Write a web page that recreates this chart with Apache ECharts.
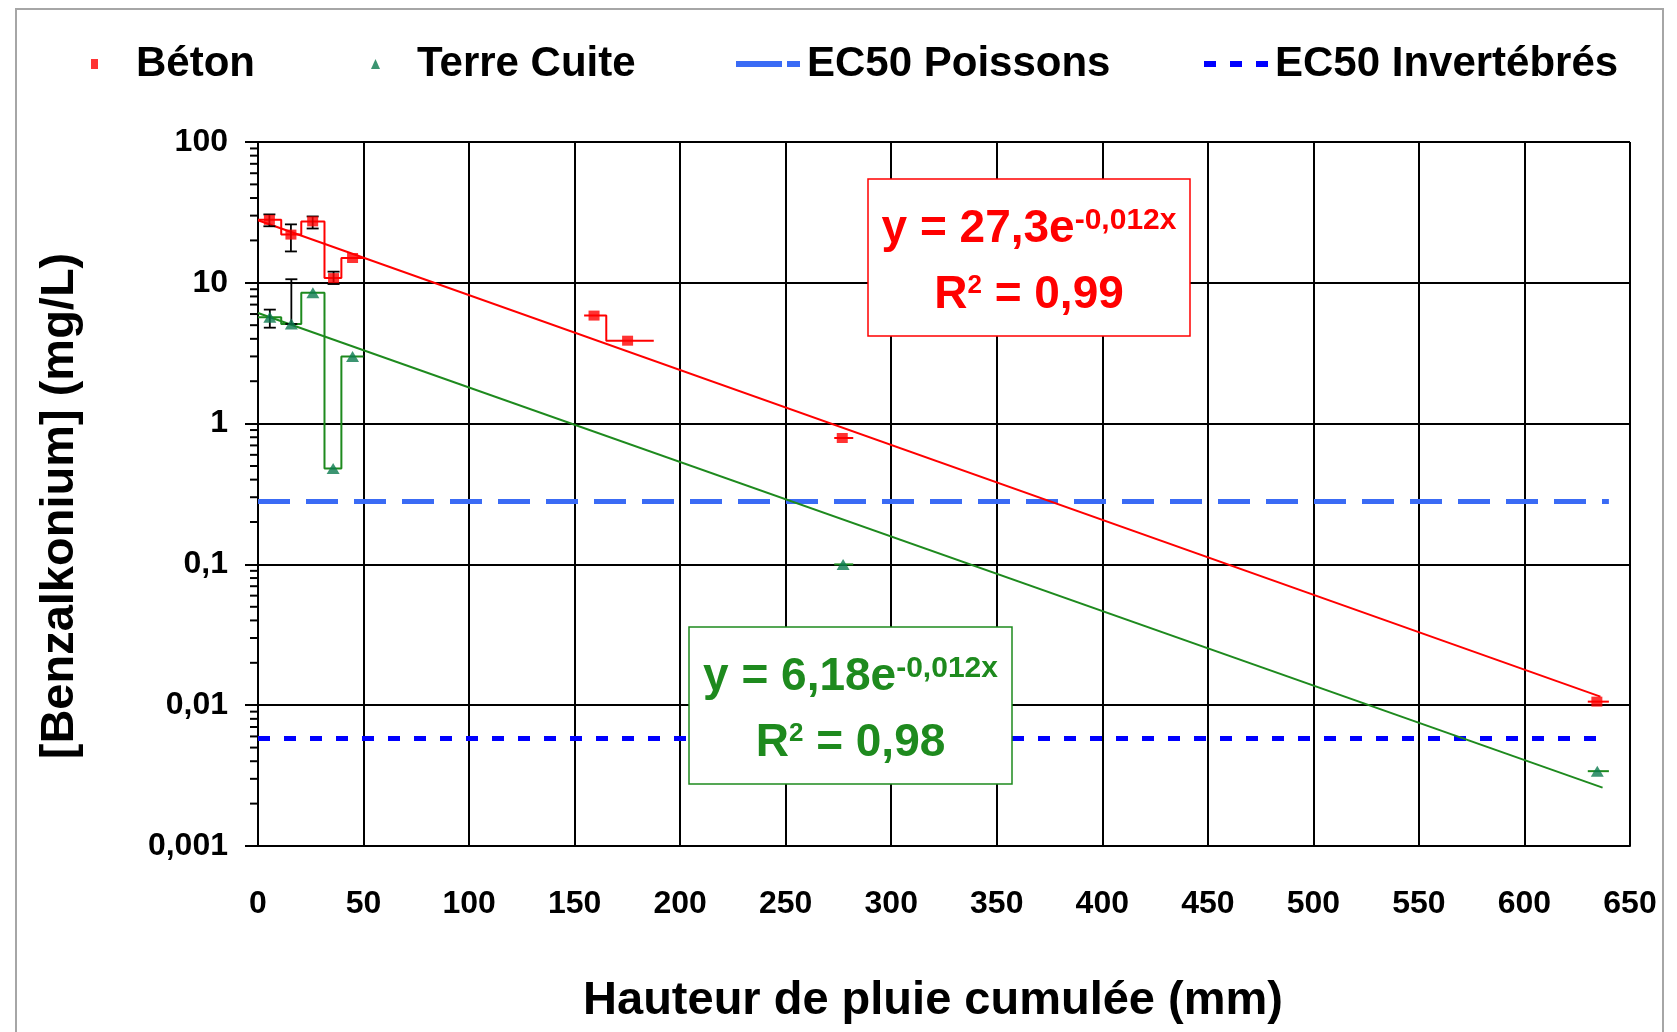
<!DOCTYPE html>
<html>
<head>
    <meta charset="utf-8">
    <script src="https://cdn.jsdelivr.net/npm/echarts@6/dist/echarts.min.js"></script>
    <style>html, body { margin: 0; padding: 0; background: #fff; }</style>
</head>
<body>
    <div id="main" style="width:1677px; height:1032px;"></div>

<script type="text/javascript">
    // Béton: point position, value, rain interval covered by the sample, error bars
    const betonX     = [5.4, 15.6, 25.9, 35.8, 44.8, 159.2, 175.1, 276.8, 634.3];
    const betonVal   = [28.0, 22.0, 27.3, 10.8, 15.0, 5.85, 3.88, 0.79, 0.0106];
    const betonFrom  = [0, 11, 20.5, 31.5, 39.5, 154.5, 165, 273, 630];
    const betonTo    = [11, 20.5, 31.5, 39.5, 50, 165, 187.5, 282, 640];
    const betonGroup = [0, 0, 0, 0, 0, 1, 1, 2, 3];
    const betonErrLow  = [25.2, 16.7, 24.3, 9.8, null, null, null, null, null];
    const betonErrHigh = [30.6, 26.0, 29.6, 12.0, null, null, null, null, null];

    // Terre Cuite
    const terreX     = [5.6, 15.8, 26.0, 35.6, 44.8, 277.2, 634.5];
    const terreVal   = [5.7, 5.1, 8.5, 0.48, 3.0, 0.1, 0.0034];
    const terreFrom  = [0, 11, 20.5, 31.5, 39.5, 273, 630];
    const terreTo    = [11, 20.5, 31.5, 39.5, 50, 282, 640];
    const terreGroup = [0, 0, 0, 0, 0, 1, 2];
    const terreErrLow  = [4.8, 5.1, null, null, null, null, null];
    const terreErrHigh = [6.45, 10.6, null, null, null, null, null];

    // exponential trend lines (end points)
    const trendBetonX = [0, 636];
    const trendBetonY = [27.8, 0.0115];
    const trendTerreX = [0, 637];
    const trendTerreY = [6.1, 0.0026];

    // EC50 thresholds
    const ec50X = [0, 640];
    const ec50Poissons = 0.28;
    const ec50Invert = 0.0058;

    // equations
    const eqBeton = { a: '27,3', k: '-0,012', r2: '0,99' };
    const eqTerre = { a: '6,18', k: '-0,012', r2: '0,98' };

    const yTickLabels = ['0,001', '0,01', '0,1', '1', '10', '100'];

    const RED = '#FF0000';
    const GREEN = '#1E8A1E';
    const FONT = '"Liberation Sans", Arial, sans-serif';

    const myChart = echarts.init(document.getElementById('main'));

    function stepSeries(from, to, val, group, color) {
        let out = [];
        let groups = [...new Set(group)];
        groups.forEach(g => {
            let pts = [];
            for (let i = 0; i < val.length; i++) {
                if (group[i] === g) {
                    pts.push([from[i], val[i]], [to[i], val[i]]);
                }
            }
            out.push({
                type: 'line',
                data: pts,
                symbol: 'none',
                lineStyle: { color: color, width: 2 },
                silent: true,
                z: 3
            });
        });
        return out;
    }

    function errData(xs, lo, hi) {
        let d = [];
        xs.forEach((x, i) => {
            if (lo[i] != null) d.push([x, lo[i], hi[i]]);
        });
        return d;
    }

    function renderErr(params, api) {
        const x = api.value(0);
        const pLo = api.coord([x, api.value(1)]);
        const pHi = api.coord([x, api.value(2)]);
        const w = 6;
        const st = { stroke: '#000', lineWidth: 1.8 };
        return {
            type: 'group',
            children: [
                { type: 'line', shape: { x1: pLo[0], y1: pLo[1], x2: pHi[0], y2: pHi[1] }, style: st },
                { type: 'line', shape: { x1: pLo[0] - w, y1: pLo[1], x2: pLo[0] + w, y2: pLo[1] }, style: st },
                { type: 'line', shape: { x1: pHi[0] - w, y1: pHi[1], x2: pHi[0] + w, y2: pHi[1] }, style: st }
            ]
        };
    }

    // minor ticks 2..9 of every decade on the log axis
    let minorTicks = [];
    for (let k = -3; k <= 1; k++) {
        for (let m = 2; m <= 9; m++) minorTicks.push([0, m * Math.pow(10, k)]);
    }

    const legendText = { fontFamily: FONT, fontSize: 42, fontWeight: 'bold', color: '#000', lineHeight: 44 };

    function eqGraphic(box, color, eq) {
        const cx = box.x + box.w / 2;
        const rich = {
            m: { fontFamily: FONT, fontSize: 46, fontWeight: 'bold', lineHeight: 46, fill: color },
            s: { fontFamily: FONT, fontSize: 30, fontWeight: 'bold', lineHeight: 14, verticalAlign: 'top', fill: color },
            t: { fontFamily: FONT, fontSize: 26, fontWeight: 'bold', lineHeight: 16, verticalAlign: 'top', fill: color }
        };
        return [
            {
                type: 'rect', z: 100,
                shape: { x: box.x, y: box.y, width: box.w, height: box.h },
                style: { fill: '#fff', stroke: color, lineWidth: 1.5 }
            },
            {
                type: 'text', z: 101, x: cx, y: box.y + 50,
                style: { text: '{m|y = ' + eq.a + 'e}{s|' + eq.k + 'x}', rich: rich, align: 'center', verticalAlign: 'middle' }
            },
            {
                type: 'text', z: 101, x: cx, y: box.y + 116.5,
                style: { text: '{m|R}{t|2}{m| = ' + eq.r2 + '}', rich: rich, align: 'center', verticalAlign: 'middle' }
            }
        ];
    }

    let option = {
        animation: false,
        backgroundColor: '#fff',
        textStyle: { fontFamily: FONT },
        grid: { left: 258, right: 47, top: 142, bottom: 186 },
        legend: [
            { data: ['Béton'], left: 91, top: 42, padding: 0, itemWidth: 7, itemHeight: 10, selectedMode: false,
              textStyle: Object.assign({ padding: [0, 0, 0, 33] }, legendText) },
            { data: ['Terre Cuite'], left: 371, top: 42, padding: 0, itemWidth: 9, itemHeight: 10, selectedMode: false,
              textStyle: Object.assign({ padding: [0, 0, 0, 32] }, legendText) },
            { data: ['EC50 Poissons'], left: 733, top: 42, padding: 0, itemWidth: 64, itemHeight: 6, selectedMode: false,
              itemStyle: { opacity: 0 }, lineStyle: { width: 6, type: [46, 5] },
              textStyle: Object.assign({ padding: [0, 0, 0, 2] }, legendText) },
            { data: ['EC50 Invertébrés'], left: 1201, top: 42, padding: 0, itemWidth: 66, itemHeight: 6, selectedMode: false,
              itemStyle: { opacity: 0 }, lineStyle: { width: 6, type: [12, 14] },
              textStyle: Object.assign({ padding: [0, 0, 0, 0] }, legendText) }
        ],
        xAxis: {
            type: 'value',
            min: 0,
            max: 650,
            interval: 50,
            axisLine: { lineStyle: { color: '#000', width: 2 } },
            axisTick: { show: false },
            axisLabel: { margin: 42, fontSize: 32, fontWeight: 'bold', color: '#000', lineHeight: 32, fontFamily: FONT },
            splitLine: { show: true, lineStyle: { color: '#000', width: 2 } },
            name: 'Hauteur de pluie cumulée (mm)',
            nameLocation: 'middle',
            nameGap: 132,
            nameTextStyle: { fontSize: 47, fontWeight: 'bold', color: '#000', lineHeight: 47, fontFamily: FONT, padding: [0, 22, 0, 0] }
        },
        yAxis: {
            type: 'log',
            logBase: 10,
            min: 0.001,
            max: 100,
            axisLine: { show: true, lineStyle: { color: '#000', width: 2 } },
            axisTick: { show: true, length: 13, lineStyle: { color: '#000', width: 2 } },
            axisLabel: {
                margin: 30, fontSize: 32, fontWeight: 'bold', color: '#000', fontFamily: FONT,
                formatter: v => yTickLabels[Math.round(Math.log10(v)) + 3]
            },
            splitLine: { show: true, lineStyle: { color: '#000', width: 2 } },
            name: '[Benzalkonium] (mg/L)',
            nameLocation: 'middle',
            nameGap: 174,
            nameTextStyle: { fontSize: 47, fontWeight: 'bold', color: '#000', lineHeight: 47, fontFamily: FONT, padding: [0, 24, 0, 0] }
        },
        series: [
            {
                type: 'custom',
                silent: true,
                data: minorTicks,
                encode: { x: 0, y: 1 },
                renderItem: (params, api) => {
                    const p = api.coord([api.value(0), api.value(1)]);
                    return { type: 'line', shape: { x1: p[0] - 8, y1: p[1], x2: p[0], y2: p[1] }, style: { stroke: '#000', lineWidth: 2 } };
                },
                z: 2
            },
            {
                type: 'line',
                name: 'EC50 Poissons',
                data: ec50X.map(x => [x, ec50Poissons]),
                symbol: 'none',
                lineStyle: { color: '#3A6BF5', width: 5, type: [32, 16] },
                itemStyle: { color: '#3A6BF5' },
                silent: true,
                z: 2
            },
            {
                type: 'line',
                name: 'EC50 Invertébrés',
                data: ec50X.map(x => [x, ec50Invert]),
                symbol: 'none',
                lineStyle: { color: '#0000FF', width: 5, type: [12, 14] },
                itemStyle: { color: '#0000FF' },
                silent: true,
                z: 2
            },
            {
                type: 'line',
                data: trendBetonX.map((x, i) => [x, trendBetonY[i]]),
                symbol: 'none',
                lineStyle: { color: RED, width: 2 },
                silent: true,
                z: 3
            },
            {
                type: 'line',
                data: trendTerreX.map((x, i) => [x, trendTerreY[i]]),
                symbol: 'none',
                lineStyle: { color: GREEN, width: 2 },
                silent: true,
                z: 3
            },
            ...stepSeries(betonFrom, betonTo, betonVal, betonGroup, RED),
            ...stepSeries(terreFrom, terreTo, terreVal, terreGroup, GREEN),
            {
                type: 'custom',
                silent: true,
                data: errData(betonX, betonErrLow, betonErrHigh).concat(errData(terreX, terreErrLow, terreErrHigh)),
                encode: { x: 0, y: [1, 2] },
                renderItem: renderErr,
                z: 4
            },
            {
                type: 'scatter',
                name: 'Béton',
                data: betonX.map((x, i) => [x, betonVal[i]]),
                symbol: 'rect',
                symbolSize: [11, 10],
                itemStyle: { color: RED },
                z: 5
            },
            {
                type: 'scatter',
                name: 'Terre Cuite',
                data: terreX.map((x, i) => [x, terreVal[i]]),
                symbol: 'triangle',
                symbolSize: [13, 11],
                itemStyle: { color: '#0B7A4F' },
                z: 5
            }
        ],
        graphic: [
            {
                type: 'rect', z: -1, silent: true,
                shape: { x: 16, y: 9, width: 1647, height: 1100 },
                style: { fill: 'none', stroke: '#A6A6A6', lineWidth: 2 }
            },
            ...eqGraphic({ x: 868, y: 179, w: 322, h: 157 }, RED, eqBeton),
            ...eqGraphic({ x: 689, y: 627, w: 323, h: 157 }, GREEN, eqTerre)
        ]
    };
    option && myChart.setOption(option);
</script>
</body>
</html>
